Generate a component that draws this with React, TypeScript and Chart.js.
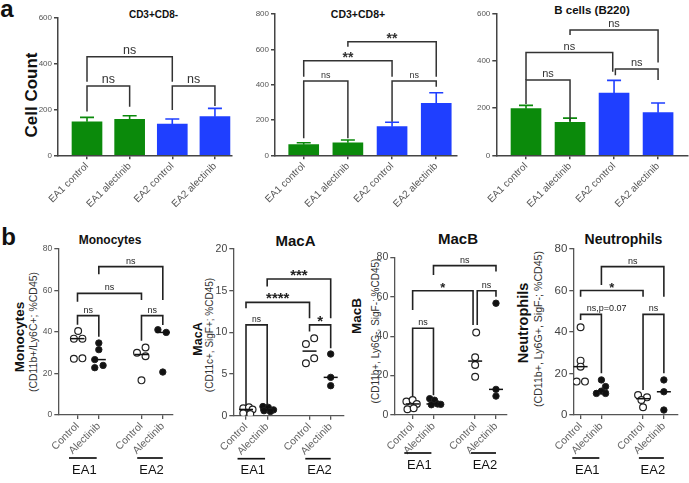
import React, { useEffect, useRef } from 'react';
import { Chart, registerables } from 'chart.js';

Chart.register(...registerables);

const FONT = "Arial, 'Liberation Sans', Helvetica, sans-serif";
Chart.defaults.font.family = FONT;

// ---------------- Panel a : bar charts (mean + SEM) ----------------
const barCategories = ['EA1 control', 'EA1 alectinib', 'EA2 control', 'EA2 alectinib'];
const barColors = ['#0b8a0b', '#0b8a0b', '#1f3fff', '#1f3fff'];
const cd8NegMean = [146, 156, 136, 168];
const cd8NegSem = [19, 16, 22, 36];
const cd8PosMean = [60, 71, 162, 294];
const cd8PosSem = [11, 16, 25, 60];
const bCellMean = [198, 140, 264, 181];
const bCellSem = [14, 18, 54, 41];

type Bracket = { from: number; to: number; y: number; l: number; r: number; label: string; lx?: number };

const cd8NegBrackets: Bracket[] = [
  { from: 0, to: 1, y: 301, l: 190, r: 211, label: 'ns' },
  { from: 2, to: 3, y: 301, l: 197, r: 214, label: 'ns' },
  { from: 0, to: 2, y: 428, l: 320, r: 320, label: 'ns' },
];
const cd8PosBrackets: Bracket[] = [
  { from: 0, to: 1, y: 420, l: 96, r: 96, label: 'ns' },
  { from: 2, to: 3, y: 420, l: 190, r: 388, label: 'ns' },
  { from: 0, to: 2, y: 536, l: 445, r: 445, label: '**' },
  { from: 1, to: 3, y: 643, l: 615, r: 445, label: '**' },
];
const bCellBrackets: Bracket[] = [
  { from: 0, to: 1, y: 320, l: 218, r: 145, label: 'ns' },
  { from: 0, to: 1.97, y: 436, l: 320, r: 355, label: 'ns' },
  { from: 2.03, to: 3, y: 366, l: 340, r: 320, label: 'ns' },
  { from: 1, to: 3, y: 532, l: 511, r: 394, label: 'ns' },
];

// ---------------- Panel b : dot plots ----------------
const dotCategories = ['Control', 'Alectinib', 'Control', 'Alectinib'];
const dotPositions = [0, 1, 3, 4];
const dotGroups = [
  { label: 'EA1', from: -0.4, to: 0.9 },
  { label: 'EA2', from: 2.8, to: 4.0 },
];

// [jitter, value]
const monoEA1Ctrl = [[0.03, 40.5], [-0.17, 36.8], [0.23, 36.8], [-0.17, 27.1], [0.23, 27.3]];
const monoEA1Alec = [[0, 34.7], [0, 31.5], [-0.19, 26.7], [-0.19, 22.8], [0.2, 23.9]];
const monoEA2Ctrl = [[-0.21, 30], [0.19, 32.5], [0.19, 28.3], [0, 16.7]];
const monoEA2Alec = [[-0.23, 41.1], [0.16, 39.8], [0, 20.7]];

const macAEA1Ctrl = [[-0.13, 0.9], [0.14, 1.0], [0.31, 0.75], [-0.13, 0.3], [0.2, 0.2]];
const macAEA1Alec = [[-0.2, 1.1], [0.05, 1.0], [0.3, 0.7], [-0.15, 0.6], [0.15, 0.5]];
const macAEA2Ctrl = [[-0.17, 8.6], [0.22, 9.3], [-0.17, 6.3], [0.22, 6.9]];
const macAEA2Alec = [[0, 7.4], [0, 4.6], [0, 3.6]];

const macBEA1Ctrl = [[-0.3, 6.8], [0, 7.6], [0.2, 5.6], [-0.25, 2.9], [0.05, 3.4]];
const macBEA1Alec = [[-0.18, 8.3], [0.05, 7.5], [-0.1, 5.2], [0.2, 5.6], [0.35, 5.4]];
const macBEA2Ctrl = [[0.05, 41.8], [0, 29.3], [0, 25.4], [0, 19.4]];
const macBEA2Alec = [[0, 56.7], [0, 13], [0, 9.6]];

const neutEA1Ctrl = [[0, 42.3], [0, 26.2], [0, 23.3], [-0.19, 16.1], [0.21, 16.1]];
const neutEA1Alec = [[0, 16.9], [0.2, 13.7], [0, 11.5], [-0.24, 10.4], [0.2, 10.4]];
const neutEA2Ctrl = [[-0.24, 9.6], [0.19, 8.5], [-0.08, 7.2], [0, 3.7]];
const neutEA2Alec = [[0, 16.9], [0, 11.2], [0, 2.4]];

const monoBrackets: Bracket[] = [
  { from: 0, to: 1, y: 47.9, l: 43.5, r: 37.7, label: 'ns' },
  { from: 3, to: 4, y: 47.9, l: 35.8, r: 43.4, label: 'ns' },
  { from: 0, to: 3, y: 58.6, l: 54.6, r: 55.4, label: 'ns' },
  { from: 1, to: 4, y: 71.5, l: 67.8, r: 55.4, label: 'ns' },
];
const macABrackets: Bracket[] = [
  { from: 0, to: 1, y: 10.9, l: 1.2, r: 1.2, label: 'ns' },
  { from: 3, to: 4, y: 10.9, l: 10.1, r: 8.1, label: '*' },
  { from: 0, to: 3, y: 13.6, l: 12.9, r: 11.7, label: '****' },
  { from: 1, to: 4, y: 16.4, l: 15.5, r: 11.7, label: '***' },
];
const macBBrackets: Bracket[] = [
  { from: 0, to: 1, y: 44, l: 9.5, r: 10, label: 'ns' },
  { from: 3.1, to: 4, y: 63, l: 45.7, r: 60, label: 'ns' },
  { from: 0, to: 2.9, y: 63, l: 53.3, r: 45.7, label: '*' },
  { from: 1, to: 4, y: 75.8, l: 71, r: 72.8, label: 'ns' },
];
const neutBrackets: Bracket[] = [
  { from: 0, to: 1, y: 48.5, l: 45.8, r: 20.1, label: 'ns,p=0.07', lx: 1.25 },
  { from: 3, to: 4, y: 48.5, l: 12, r: 20.1, label: 'ns' },
  { from: 0, to: 3, y: 60, l: 57, r: 57, label: '*' },
  { from: 1, to: 4, y: 71.5, l: 62.7, r: 57, label: 'ns' },
];

// ---------------- panel specs (layout + style) ----------------
const aStyle = {
  kind: 'bar', boxBottom: 232, padRight: 4, tickPos: [0, 1, 2, 3], tickLabels: barCategories,
  yStep: 200, yTickSize: 8, yTickColor: '#555', xTickSize: 10, xTickColor: '#555',
  axisColor: '#444', axisW: 1.5, starSize: 14, starDy: 1, bracketColor: '#333', bracketW: 1.5,
  colors: barColors,
};
const bStyle = {
  kind: 'dot', boxBottom: 483, padRight: 4, tickPos: dotPositions, tickLabels: dotCategories,
  yStep: 20, xTickSize: 10.5, xTickColor: '#666', yTickColor: '#444',
  axisColor: '#555', axisW: 1.3, starDy: 1, bracketColor: '#222', bracketW: 1.6,
};

const panels: any[] = [
  { ...aStyle, left: 58, right: 232, top: 17.3, bottom: 155.3, xMin: -0.68, xMax: 3.4, yMax: 600,
    means: cd8NegMean, sems: cd8NegSem, brackets: cd8NegBrackets, nsSize: 12.5 },
  { ...aStyle, left: 275, right: 457, top: 14, bottom: 155.3, xMin: -0.65, xMax: 3.47, yMax: 800,
    means: cd8PosMean, sems: cd8PosSem, brackets: cd8PosBrackets, nsSize: 9 },
  { ...aStyle, left: 496.3, right: 688, top: 14, bottom: 155.3, xMin: -0.675, xMax: 3.68, yMax: 600,
    means: bCellMean, sems: bCellSem, brackets: bCellBrackets, nsSize: 11, padRight: 1 },
  { ...bStyle, left: 58.3, right: 173, top: 249, bottom: 415, xMin: -0.9, xMax: 4.45, yMax: 80,
    groups: [monoEA1Ctrl, monoEA1Alec, monoEA2Ctrl, monoEA2Alec], brackets: monoBrackets,
    yTickSize: 8.5, yTickColor: '#555', nsSize: 9, starSize: 14, groupLineDy: 43, groupTextDy: 55 },
  { ...bStyle, left: 233.3, right: 344, top: 249, bottom: 415.7, xMin: -0.6, xMax: 4.6, yMax: 20, yStep: 5,
    groups: [macAEA1Ctrl, macAEA1Alec, macAEA2Ctrl, macAEA2Alec], brackets: macABrackets,
    yTickSize: 10.5, nsSize: 8.5, starSize: 15, groupLineDy: 43, groupTextDy: 55 },
  { ...bStyle, left: 394.3, right: 507, top: 257.3, bottom: 415, xMin: -0.88, xMax: 4.5, yMax: 80,
    groups: [macBEA1Ctrl, macBEA1Alec, macBEA2Ctrl, macBEA2Alec], brackets: macBBrackets,
    yTickSize: 10.5, nsSize: 9, starSize: 13, groupLineDy: 38, groupTextDy: 50 },
  { ...bStyle, left: 573.3, right: 678, top: 249, bottom: 415, xMin: -0.35, xMax: 4.65, yMax: 80,
    groups: [neutEA1Ctrl, neutEA1Alec, neutEA2Ctrl, neutEA2Alec], brackets: neutBrackets,
    yTickSize: 11.5, nsSize: 9, starSize: 13, groupLineDy: 43, groupTextDy: 55 },
];

function median(vals: number[]) {
  const s = [...vals].sort((a, b) => a - b);
  const n = s.length;
  return n % 2 ? s[(n - 1) / 2] : (s[n / 2 - 1] + s[n / 2]) / 2;
}

function annotationPlugin(spec: any) {
  return {
    id: 'panelAnnotations',
    afterDatasetsDraw(chart: any) {
      const { ctx } = chart;
      const x = chart.scales.x;
      const y = chart.scales.y;
      ctx.save();
      ctx.lineCap = 'butt';
      ctx.lineJoin = 'miter';
      if (spec.kind === 'bar') {
        spec.means.forEach((m: number, i: number) => {
          const px = x.getPixelForValue(i);
          const y0 = y.getPixelForValue(m);
          const y1 = y.getPixelForValue(m + spec.sems[i]);
          ctx.strokeStyle = spec.colors[i];
          ctx.lineWidth = 1.6;
          ctx.beginPath();
          ctx.moveTo(px, y0);
          ctx.lineTo(px, y1);
          ctx.moveTo(px - 7, y1);
          ctx.lineTo(px + 7, y1);
          ctx.stroke();
        });
      } else {
        spec.groups.forEach((g: number[][], gi: number) => {
          const med = median(g.map((p) => p[1]));
          const px = x.getPixelForValue(dotPositions[gi]);
          const py = y.getPixelForValue(med);
          ctx.strokeStyle = '#111';
          ctx.lineWidth = 1.5;
          ctx.beginPath();
          ctx.moveTo(px - 7, py);
          ctx.lineTo(px + 7, py);
          ctx.stroke();
        });
        const yb = chart.chartArea.bottom;
        dotGroups.forEach((g) => {
          const x0 = x.getPixelForValue(g.from);
          const x1 = x.getPixelForValue(g.to);
          ctx.strokeStyle = '#111';
          ctx.lineWidth = 1.7;
          ctx.beginPath();
          ctx.moveTo(x0, yb + spec.groupLineDy);
          ctx.lineTo(x1, yb + spec.groupLineDy);
          ctx.stroke();
          ctx.fillStyle = '#111';
          ctx.font = `13px ${FONT}`;
          ctx.textAlign = 'center';
          ctx.textBaseline = 'middle';
          ctx.fillText(g.label, (x0 + x1) / 2 + 1.5, yb + spec.groupTextDy);
        });
      }
      spec.brackets.forEach((b: Bracket) => {
        const xl = x.getPixelForValue(b.from);
        const xr = x.getPixelForValue(b.to);
        const yt = y.getPixelForValue(b.y);
        const yl = y.getPixelForValue(b.l);
        const yr = y.getPixelForValue(b.r);
        ctx.strokeStyle = spec.bracketColor;
        ctx.lineWidth = spec.bracketW;
        ctx.beginPath();
        ctx.moveTo(xl, yl);
        ctx.lineTo(xl, yt);
        ctx.lineTo(xr, yt);
        ctx.lineTo(xr, yr);
        ctx.stroke();
        const isStar = /^\*+$/.test(b.label);
        const lx = b.lx !== undefined ? x.getPixelForValue(b.lx) : (xl + xr) / 2;
        ctx.fillStyle = spec.bracketColor;
        ctx.textAlign = 'center';
        ctx.textBaseline = 'alphabetic';
        ctx.font = isStar ? `bold ${spec.starSize}px ${FONT}` : `${spec.nsSize}px ${FONT}`;
        ctx.fillText(b.label, lx, isStar ? yt + spec.starDy : yt - 3);
      });
      ctx.restore();
    },
  };
}

function buildConfig(spec: any, yw: number, pt: number, pr: number, xh: number): any {
  const isBar = spec.kind === 'bar';
  const datasets = isBar
    ? [{
        type: 'bar',
        data: spec.means.map((v: number, i: number) => ({ x: i, y: v })),
        backgroundColor: spec.colors,
        borderWidth: 0,
        barThickness: 30,
      }]
    : spec.groups.map((g: number[][], gi: number) => ({
        type: 'scatter',
        data: g.map(([dx, v]) => ({ x: dotPositions[gi] + dx, y: v })),
        pointRadius: gi % 2 === 0 ? 3.4 : 3.2,
        pointBackgroundColor: gi % 2 === 0 ? '#ffffff' : '#111111',
        pointBorderColor: '#222222',
        pointBorderWidth: gi % 2 === 0 ? 1.2 : 1,
        pointHoverRadius: 0,
      }));
  const axisGrid = {
    display: true, drawOnChartArea: false, drawTicks: true, tickLength: 4,
    color: spec.axisColor, lineWidth: spec.axisW, offset: false,
  };
  const axisBorder = { display: true, color: spec.axisColor, width: spec.axisW };
  return {
    type: isBar ? 'bar' : 'scatter',
    data: { datasets },
    options: {
      animation: false,
      responsive: true,
      maintainAspectRatio: false,
      events: [],
      layout: { padding: { left: 0, top: pt, right: pr, bottom: 0 } },
      plugins: { legend: { display: false }, tooltip: { enabled: false }, title: { display: false } },
      scales: {
        x: {
          type: 'linear', min: spec.xMin, max: spec.xMax, offset: false,
          afterBuildTicks: (s: any) => { s.ticks = spec.tickPos.map((v: number) => ({ value: v })); },
          afterFit: (s: any) => { s.height = xh; s.paddingLeft = 0; s.paddingRight = 0; },
          ticks: {
            callback: (_v: any, i: number) => spec.tickLabels[i],
            minRotation: 45, maxRotation: 45, autoSkip: false, padding: 1,
            font: { size: spec.xTickSize }, color: spec.xTickColor,
          },
          grid: axisGrid, border: axisBorder,
        },
        y: {
          type: 'linear', min: 0, max: spec.yMax,
          afterFit: (s: any) => { s.width = yw; s.paddingTop = 0; s.paddingBottom = 0; },
          ticks: { stepSize: spec.yStep, padding: 2, font: { size: spec.yTickSize }, color: spec.yTickColor },
          grid: axisGrid, border: axisBorder,
        },
      },
    },
    plugins: [annotationPlugin(spec)],
  };
}

function Panel({ spec }: { spec: any }) {
  const ref = useRef<HTMLCanvasElement>(null);
  const boxLeft = Math.floor(spec.left - 44);
  const yw = spec.left - boxLeft;
  const boxTop = Math.floor(spec.top - 10);
  const pt = spec.top - boxTop;
  const boxRight = Math.ceil(spec.right + spec.padRight);
  const pr = boxRight - spec.right;
  const xh = spec.boxBottom - spec.bottom;
  useEffect(() => {
    const chart = new Chart(ref.current as HTMLCanvasElement, buildConfig(spec, yw, pt, pr, xh));
    return () => chart.destroy();
  }, []);
  return (
    <div style={{ position: 'absolute', left: boxLeft, top: boxTop, width: boxRight - boxLeft, height: spec.boxBottom - boxTop }}>
      <canvas ref={ref} />
    </div>
  );
}

type Txt = { t: string; x: number; y: number; size: number; bold?: boolean; rot?: boolean; color?: string };

const texts: Txt[] = [
  { t: 'a', x: 7, y: 9, size: 24, bold: true },
  { t: 'b', x: 8.5, y: 237, size: 24, bold: true },
  { t: 'Cell Count', x: 31, y: 95, size: 17, bold: true, rot: true },
  { t: 'CD3+CD8-', x: 153.5, y: 15, size: 10, bold: true },
  { t: 'CD3+CD8+', x: 358, y: 14, size: 10.5, bold: true },
  { t: 'B cells (B220)', x: 592, y: 11, size: 11.5, bold: true },
  { t: 'Monocytes', x: 110, y: 240, size: 12, bold: true },
  { t: 'MacA', x: 295.5, y: 240, size: 15, bold: true },
  { t: 'MacB', x: 458, y: 238, size: 15, bold: true },
  { t: 'Neutrophils', x: 623.5, y: 239, size: 14, bold: true },
  { t: 'Monocytes', x: 20, y: 337, size: 13.5, bold: true, rot: true },
  { t: '(CD11b+/Ly6C+; %CD45)', x: 33, y: 332, size: 10.5, rot: true, color: '#333' },
  { t: 'MacA', x: 198, y: 339, size: 12.5, bold: true, rot: true },
  { t: '(CD11c+, SigF+; %CD45)', x: 209.5, y: 335, size: 10, rot: true, color: '#333' },
  { t: 'MacB', x: 357, y: 316, size: 13.5, bold: true, rot: true },
  { t: '(CD11b+, Ly6G-, SigF-; %CD45)', x: 375.5, y: 331, size: 10, rot: true, color: '#333' },
  { t: 'Neutrophils', x: 523, y: 322.5, size: 14.5, bold: true, rot: true },
  { t: '(CD11b+, Ly6G+, SigF-; %CD45)', x: 537.5, y: 328.5, size: 10.6, rot: true, color: '#333' },
];

export default function App() {
  useEffect(() => {
    document.body.style.margin = '0';
  }, []);
  return (
    <div style={{ position: 'absolute', left: 0, top: 0, width: 689, height: 483, overflow: 'hidden', background: '#fff' }}>
      {texts.map((d, i) => (
        <div
          key={i}
          style={{
            position: 'absolute', left: d.x, top: d.y,
            transform: `translate(-50%, -50%)${d.rot ? ' rotate(-90deg)' : ''}`,
            fontFamily: FONT, fontSize: d.size, fontWeight: d.bold ? 700 : 400,
            color: d.color || '#111', whiteSpace: 'nowrap', lineHeight: 1,
          }}
        >
          {d.t}
        </div>
      ))}
      {panels.map((p, i) => (
        <Panel key={i} spec={p} />
      ))}
    </div>
  );
}
